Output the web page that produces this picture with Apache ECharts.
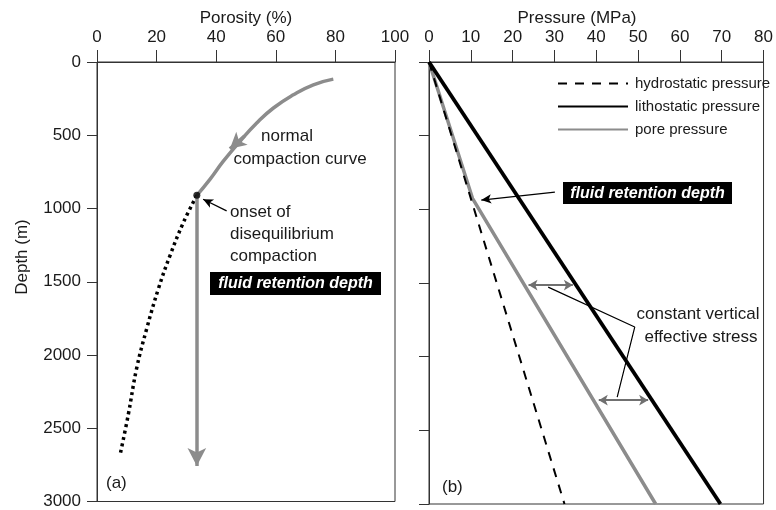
<!DOCTYPE html>
<html><head><meta charset="utf-8">
<script src="https://cdn.jsdelivr.net/npm/echarts@6/dist/echarts.min.js"></script>
<style>html,body{margin:0;padding:0;background:#fff}#c{width:776px;height:510px}</style>
</head><body><div id="c"></div>
<script>
// ---- data ----
var porosityTicks = [0, 20, 40, 60, 80, 100];
var pressureTicks = [0, 10, 20, 30, 40, 50, 60, 70, 80];
var depthTicks = [0, 500, 1000, 1500, 2000, 2500, 3000];
// [porosity %, depth m]
var normalCompaction = [[79.3,117],[72.6,156],[65.9,224],[59.2,314],[53.6,416],[48.0,541],[42.4,677],[37.9,801],[33.5,910]];
var disequilibrium = [[33.5,910],[29.0,1095],[24.5,1321],[20.6,1548],[16.7,1819],[13.3,2091],[10.5,2407],[7.9,2667]];
var retentionArrow = [[33.5,910],[33.5,2758]];
var onsetPoint = [[33.5,910]];
var onsetPointer = [[43.5,1016],[35.6,937]];
var curveArrow = [[49.5,505],[44.6,592]];
// [pressure MPa, depth m]
var hydrostatic = [[0,0],[32.4,3000]];
var lithostatic = [[0,0],[69.7,3000]];
var porePressure = [[0,0],[10.4,925],[54.2,3000]];
var retentionPointer = [[30.1,883],[12.5,937]];
var stressArrowUpper = [[23.8,1514],[34.4,1514]];
var stressArrowLower = [[40.6,2295],[52.4,2295]];
var stressLeader = [[28.5,1528],[49.2,1799],[45.0,2274]];

var FONT = "'Liberation Sans', Arial, sans-serif";
var TXT = '#1a1a1a';
var GRAY = '#8c8c8c';
var AGRAY = '#707070';

var chart = echarts.init(document.getElementById('c'));

function xAx(idx, max, interval){
  return {gridIndex: idx, type:'value', position:'top', min:0, max:max, interval:interval,
    axisLine:{show:true, onZero:false, lineStyle:{color:'#333', width:1}},
    axisTick:{show:true, inside:false, length:12, lineStyle:{color:'#333'}},
    axisLabel:{show:true, margin:16, fontSize:17, color:TXT, fontFamily:FONT, showMaxLabel:true, showMinLabel:true},
    splitLine:{show:false}};
}
function yAx(idx, labels){
  return {gridIndex: idx, type:'value', inverse:true, min:0, max:3000, interval:500,
    axisLine:{show:true, onZero:false, lineStyle:{color:'#333', width:1}},
    axisTick:{show:true, inside:false, length:10, lineStyle:{color:'#333'}},
    axisLabel:{show:labels, margin:16, fontSize:17, color:TXT, fontFamily:FONT, formatter:function(v){return String(v);}},
    splitLine:{show:false}};
}
function arrowLine(xi, pts, color, width, symbols, size){
  return {type:'line', xAxisIndex:xi, yAxisIndex:xi, data:[], silent:true,
    markLine:{silent:true, symbol:symbols, symbolSize:size, label:{show:false},
      lineStyle:{color:color, width:width, type:'solid'},
      data:[[{coord:pts[0]},{coord:pts[1]}]], animation:false}};
}

var option = {
  animation:false,
  textStyle:{fontFamily:FONT},
  grid:[
    {left:97, top:62, width:298, height:442, show:true, borderColor:'#333', borderWidth:1, backgroundColor:'transparent'},
    {left:429, top:62, width:340, height:442, show:true, borderColor:'#333', borderWidth:1, backgroundColor:'transparent'}
  ],
  xAxis:[xAx(0,100,20), xAx(1,80,10)],
  yAxis:[yAx(0,true), yAx(1,false)],
  legend:{
    data:['hydrostatic pressure','lithostatic pressure','pore pressure'],
    orient:'vertical', left:552, top:71, itemWidth:70, itemHeight:14, itemGap:8,
    itemStyle:{opacity:0},
    textStyle:{fontSize:15, color:TXT, fontFamily:FONT, padding:[0,0,0,2]},
    selectedMode:false
  },
  series:[
    {name:'normal compaction', type:'line', xAxisIndex:0, yAxisIndex:0, data:normalCompaction, smooth:0.5, symbol:'none',
      lineStyle:{color:GRAY, width:3.5}, z:3},
    {name:'disequilibrium', type:'line', xAxisIndex:0, yAxisIndex:0, data:disequilibrium, smooth:0.4, symbol:'none',
      lineStyle:{color:'#000', width:3.5, type:[3,3.5]}, z:2},
    arrowLine(0, retentionArrow, GRAY, 3.5, ['none','arrow'], [14,18]),
    arrowLine(0, curveArrow, GRAY, 3.5, ['none','arrow'], [13,16]),
    arrowLine(0, onsetPointer, '#000', 1.3, ['none','arrow'], [7,10]),
    {name:'onset', type:'scatter', xAxisIndex:0, yAxisIndex:0, data:onsetPoint, symbolSize:7, itemStyle:{color:'#000'}, z:5},

    {name:'hydrostatic pressure', type:'line', xAxisIndex:1, yAxisIndex:1, data:hydrostatic, symbol:'none',
      lineStyle:{color:'#000', width:2, type:[9,8]}, itemStyle:{color:'#000'}, z:3},
    {name:'lithostatic pressure', type:'line', xAxisIndex:1, yAxisIndex:1, data:lithostatic, symbol:'none',
      lineStyle:{color:'#000', width:3.8}, itemStyle:{color:'#000'}, z:3},
    {name:'pore pressure', type:'line', xAxisIndex:1, yAxisIndex:1, data:porePressure, symbol:'none',
      lineStyle:{color:GRAY, width:3.5}, itemStyle:{color:GRAY}, z:2},
    arrowLine(1, retentionPointer, '#000', 1.3, ['none','arrow'], [7,10]),
    arrowLine(1, stressArrowUpper, AGRAY, 2, ['arrow','arrow'], [8,9]),
    arrowLine(1, stressArrowLower, AGRAY, 2, ['arrow','arrow'], [8,9]),
    {name:'leader', type:'line', xAxisIndex:1, yAxisIndex:1, data:stressLeader, symbol:'none',
      lineStyle:{color:'#000', width:1.2}, z:4}
  ],
  graphic:[
    {type:'text', x:246, y:18, style:{text:'Porosity (%)', font:'17px '+FONT, fill:TXT, align:'center', verticalAlign:'middle'}},
    {type:'text', x:577, y:18, style:{text:'Pressure (MPa)', font:'17px '+FONT, fill:TXT, align:'center', verticalAlign:'middle'}},
    {type:'text', x:22, y:257, rotation:Math.PI/2, style:{text:'Depth (m)', font:'17px '+FONT, fill:TXT, align:'center', verticalAlign:'middle'}},
    {type:'text', x:287, y:136, style:{text:'normal', font:'17px '+FONT, fill:TXT, align:'center', verticalAlign:'middle'}},
    {type:'text', x:300, y:159, style:{text:'compaction curve', font:'17px '+FONT, fill:TXT, align:'center', verticalAlign:'middle'}},
    {type:'text', x:230, y:212, style:{text:'onset of', font:'17px '+FONT, fill:TXT, align:'left', verticalAlign:'middle'}},
    {type:'text', x:230, y:234, style:{text:'disequilibrium', font:'17px '+FONT, fill:TXT, align:'left', verticalAlign:'middle'}},
    {type:'text', x:230, y:256, style:{text:'compaction', font:'17px '+FONT, fill:TXT, align:'left', verticalAlign:'middle'}},
    {type:'rect', shape:{x:210, y:272, width:171, height:23}, style:{fill:'#000'}},
    {type:'text', x:295.5, y:284, style:{text:'fluid retention depth', font:'italic bold 16px '+FONT, fill:'#fff', align:'center', verticalAlign:'middle'}},
    {type:'text', x:106, y:483, style:{text:'(a)', font:'17px '+FONT, fill:TXT, align:'left', verticalAlign:'middle'}},
    {type:'rect', shape:{x:563, y:182, width:169, height:22}, style:{fill:'#000'}},
    {type:'text', x:647.5, y:193.5, style:{text:'fluid retention depth', font:'italic bold 16px '+FONT, fill:'#fff', align:'center', verticalAlign:'middle'}},
    {type:'text', x:698, y:314, style:{text:'constant vertical', font:'17px '+FONT, fill:TXT, align:'center', verticalAlign:'middle'}},
    {type:'text', x:701, y:337, style:{text:'effective stress', font:'17px '+FONT, fill:TXT, align:'center', verticalAlign:'middle'}},
    {type:'text', x:442, y:487, style:{text:'(b)', font:'17px '+FONT, fill:TXT, align:'left', verticalAlign:'middle'}}
  ]
};
chart.setOption(option);
</script>
</body></html>
